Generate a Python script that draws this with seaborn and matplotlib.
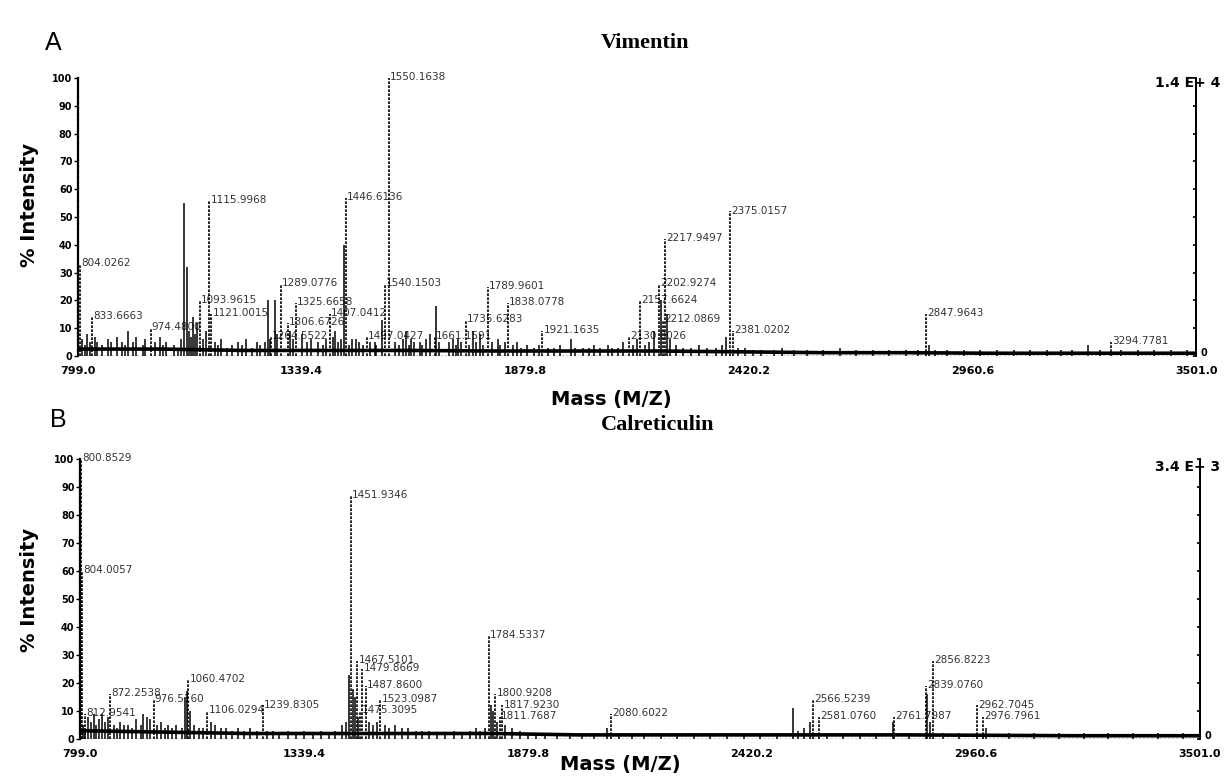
import matplotlib
matplotlib.use("Agg")
import matplotlib.pyplot as plt
import seaborn as sns
import pandas as pd

# axis ticks (m/z)
x_ticks = [799.0, 1339.4, 1879.8, 2420.2, 2960.6, 3501.0]
x_tick_labels = ["799.0", "1339.4", "1879.8", "2420.2", "2960.6", "3501.0"]
y_ticks = [0, 10, 20, 30, 40, 50, 60, 70, 80, 90, 100]

# ---- Vimentin: labelled peaks
vim_mz = [804.0, 833.7, 974.5, 1094.0, 1116.0, 1121.0, 1264.6, 1289.1, 1306.7, 1325.7,
          1407.0, 1446.6, 1497.0, 1540.2, 1550.2, 1661.2, 1735.6, 1789.9, 1838.1, 1921.2,
          2130.0, 2157.7, 2202.9, 2212.1, 2217.9, 2375.0, 2381.0, 2847.96, 3294.8]
vim_int = [33, 14, 10, 20, 56, 15, 7, 26, 12, 19,
           15, 57, 7, 26, 100, 7, 13, 25, 19, 9,
           7, 20, 26, 13, 42, 52, 9, 15, 5]
vim_lab = ["804.0262", "833.6663", "974.4800", "1093.9615", "1115.9968", "1121.0015",
           "1264.5522", "1289.0776", "1306.6726", "1325.6658", "1407.0412", "1446.6136",
           "1497.0427", "1540.1503", "1550.1638", "1661.1591", "1735.6283", "1789.9601",
           "1838.0778", "1921.1635", "2130.0026", "2157.6624", "2202.9274", "2212.0869",
           "2217.9497", "2375.0157", "2381.0202", "2847.9643", "3294.7781"]

# ---- Vimentin: unlabelled peaks
vim_minor_mz = [808, 815, 822, 828, 840, 846, 858, 872, 880, 893,
                905, 912, 920, 932, 940, 955, 962, 985, 998, 1005,
                1012, 1030, 1040, 1048, 1068, 1072, 1082, 1100, 1108, 1130,
                1138, 1145, 1160, 1172, 1185, 1195, 1205, 1220, 1232, 1240,
                1250, 1258, 1262, 1275, 1280, 1312, 1318, 1340, 1352, 1362,
                1378, 1390, 1398, 1415, 1420, 1428, 1435, 1441, 1455, 1462,
                1470, 1478, 1488, 1505, 1516, 1520, 1533, 1565, 1575, 1585,
                1591, 1598, 1603, 1612, 1625, 1630, 1640, 1649, 1664, 1672,
                1695, 1705, 1712, 1717, 1725, 1745, 1753, 1760, 1770, 1778,
                1800, 1813, 1820, 1830, 1850, 1859, 1870, 1885, 1900, 1912,
                1935, 1950, 1965, 1990, 2000, 2020, 2035, 2045, 2060, 2079,
                2090, 2103, 2115, 2140, 2150, 2170, 2180, 2190, 2207, 2222,
                2230, 2245, 2260, 2280, 2300, 2320, 2340, 2355, 2365, 2395,
                2410, 2430, 2450, 2480, 2500, 2530, 2560, 2600, 2640, 2680,
                2720, 2760, 2800, 2830, 2855, 2870, 2900, 2940, 2980, 3020,
                3060, 3100, 3140, 3175, 3200, 3240, 3270, 3320, 3360, 3400,
                3440, 3480, 1055, 1062, 1077, 1086]
vim_minor_int = [6, 4, 8, 5, 7, 5, 4, 6, 5, 7,
                 5, 4, 9, 5, 7, 4, 6, 5, 7, 4,
                 5, 4, 3, 6, 9, 7, 8, 6, 9, 5,
                 4, 6, 3, 4, 5, 4, 6, 3, 5, 4,
                 5, 20, 6, 20, 8, 9, 6, 8, 5, 6,
                 5, 4, 6, 7, 9, 5, 6, 40, 4, 6,
                 6, 5, 4, 5, 5, 4, 13, 5, 4, 6,
                 9, 4, 6, 5, 5, 4, 6, 8, 18, 5,
                 5, 6, 4, 6, 5, 4, 9, 5, 8, 4,
                 5, 6, 4, 5, 4, 5, 3, 4, 3, 4,
                 3, 3, 4, 6, 3, 3, 3, 4, 3, 4,
                 3, 3, 5, 4, 6, 4, 5, 9, 20, 15,
                 6, 4, 3, 3, 4, 3, 3, 4, 7, 3,
                 3, 2, 2, 2, 3, 2, 2, 2, 3, 2,
                 2, 2, 2, 2, 4, 2, 2, 2, 2, 2,
                 2, 2, 2, 2, 2, 4, 2, 2, 2, 2,
                 2, 2, 55, 32, 14, 12]
vim_base_mz = [799, 1000, 1200, 1400, 1600, 1800, 2000, 2200, 2400, 2600, 2800, 3000, 3200, 3501]
vim_base = [2.5, 2.5, 2.0, 2.0, 2.0, 1.8, 1.8, 1.8, 1.5, 1.2, 1.2, 1.0, 1.0, 1.0]

# ---- Calreticulin: labelled peaks
cal_mz = [800.9, 804.0, 812.0, 872.3, 976.5, 1060.5, 1106.0, 1239.8, 1451.9, 1467.5,
          1475.3, 1479.9, 1487.9, 1523.1, 1784.5, 1800.9, 1811.8, 1817.9, 2080.6, 2566.5,
          2581.1, 2761.8, 2839.1, 2856.8, 2962.7, 2976.8]
cal_int = [100, 60, 9, 16, 14, 21, 10, 12, 87, 28,
           10, 25, 19, 14, 37, 16, 8, 12, 9, 14,
           8, 8, 19, 28, 12, 8]
cal_lab = ["800.8529", "804.0057", "812.9541", "872.2538", "976.5160", "1060.4702",
           "1106.0294", "1239.8305", "1451.9346", "1467.5101", "1475.3095", "1479.8669",
           "1487.8600", "1523.0987", "1784.5337", "1800.9208", "1811.7687", "1817.9230",
           "2080.6022", "2566.5239", "2581.0760", "2761.7987", "2839.0760", "2856.8223",
           "2962.7045", "2976.7961"]

# ---- Calreticulin: unlabelled peaks
cal_minor_mz = [806, 812, 818, 825, 832, 838, 845, 852, 860, 866,
                880, 888, 895, 905, 915, 925, 935, 945, 952, 960,
                968, 985, 995, 1003, 1010, 1020, 1030, 1045, 1052, 1058,
                1065, 1075, 1085, 1095, 1115, 1125, 1140, 1152, 1165, 1180,
                1195, 1210, 1225, 1250, 1265, 1280, 1300, 1320, 1340, 1360,
                1380, 1400, 1415, 1430, 1440, 1448, 1458, 1463, 1470, 1495,
                1505, 1515, 1535, 1545, 1560, 1575, 1590, 1610, 1625, 1640,
                1660, 1680, 1700, 1720, 1740, 1755, 1765, 1775, 1790, 1795,
                1805, 1825, 1840, 1860, 1880, 1900, 1920, 1950, 1980, 2010,
                2040, 2070, 2100, 2130, 2160, 2200, 2240, 2280, 2320, 2360,
                2400, 2440, 2480, 2519, 2530, 2545, 2560, 2600, 2640, 2680,
                2720, 2761, 2800, 2843, 2850, 2880, 2920, 2985, 3040, 3100,
                3160, 3220, 3280, 3340, 3400, 3460]
cal_minor_int = [5, 4, 8, 6, 9, 5, 7, 9, 6, 8,
                 5, 4, 6, 5, 5, 4, 7, 5, 9, 8,
                 7, 5, 6, 4, 5, 4, 5, 4, 15, 17,
                 10, 5, 4, 4, 6, 5, 4, 4, 3, 4,
                 3, 4, 3, 3, 3, 2, 3, 2, 3, 2,
                 3, 2, 3, 5, 6, 23, 18, 15, 8, 6,
                 5, 6, 5, 4, 5, 4, 4, 3, 3, 3,
                 2, 2, 3, 2, 3, 4, 3, 4, 12, 10,
                 6, 5, 4, 3, 2, 2, 2, 2, 2, 2,
                 2, 4, 2, 2, 2, 2, 2, 2, 2, 2,
                 2, 2, 2, 11, 3, 4, 6, 2, 2, 2,
                 2, 6, 2, 16, 6, 2, 2, 4, 2, 2,
                 2, 2, 2, 2, 2, 2]
cal_base_mz = [799, 1000, 1200, 1400, 1600, 1800, 2000, 2400, 2800, 3200, 3501]
cal_base = [3.0, 2.5, 2.0, 2.0, 2.0, 2.0, 1.5, 1.5, 1.5, 1.2, 1.2]

sns.set_theme(style="white")
plt.rcParams['font.family'] = ['DejaVu Sans']
plt.rcParams['text.color'] = 'black'
plt.rcParams['xtick.color'] = 'black'
plt.rcParams['ytick.color'] = 'black'
plt.rcParams['axes.edgecolor'] = 'black'

fig = plt.figure(figsize=(12.26, 7.78), dpi=100)
axA = fig.add_axes([0.0636, 0.5424, 0.912, 0.3573])
axB = fig.add_axes([0.0653, 0.050, 0.9135, 0.360])


def draw_spectrum(ax, mz, inten, labels, minor_mz, minor_int, base_mz, base):
    base_df = pd.DataFrame({'mz': base_mz, 'level': base})
    sns.lineplot(data=base_df, x='mz', y='level', ax=ax, color='black', lw=2.6)
    ax.vlines(minor_mz, 0, minor_int, color='black', lw=1.1)
    ax.vlines(mz, 0, inten, color='black', lw=1.2, linestyles=(0, (1.6, 0.8)))
    for m, h, lab in zip(mz, inten, labels):
        ax.text(m + 3, h + 0.3, lab, fontsize=7.5, ha='left', va='center',
                color='black', alpha=0.8)
    ax.axhline(0, color='black', lw=1.0, ls=(0, (1.5, 1.5)))

    ax.set_xlim(799, 3501)
    ax.set_ylim(0, 100)
    ax.set_xticks(x_ticks)
    ax.set_xticklabels(x_tick_labels, fontsize=8, fontweight='bold')
    ax.set_yticks(y_ticks)
    ax.set_yticklabels([str(v) for v in y_ticks], fontsize=7, fontweight='bold')
    ax.tick_params(axis='x', length=0, pad=7)
    ax.tick_params(axis='y', length=3, width=1, direction='out', pad=1, left=True)
    ax.set_xlabel('')
    ax.set_ylabel('')
    for s in ['top', 'bottom']:
        ax.spines[s].set_visible(False)
    ax.spines['left'].set_linewidth(1.6)
    ax.spines['left'].set_linestyle((0, (2, 0.6)))
    ax.spines['right'].set_linewidth(1.3)
    sec = ax.secondary_yaxis('right')
    sec.set_yticks(y_ticks)
    sec.set_yticklabels([])
    sec.tick_params(length=2, direction='in')
    sec.spines['right'].set_linewidth(1.3)
    ax.text(1.004, 0.01, '0', transform=ax.transAxes, fontsize=7, fontweight='bold',
            ha='left', va='center')


draw_spectrum(axA, vim_mz, vim_int, vim_lab, vim_minor_mz, vim_minor_int, vim_base_mz, vim_base)
draw_spectrum(axB, cal_mz, cal_int, cal_lab, cal_minor_mz, cal_minor_int, cal_base_mz, cal_base)

# panel texts
fig.text(0.037, 0.945, 'A', fontsize=18, family='Liberation Sans', va='center')
fig.text(0.526, 0.945, 'Vimentin', fontsize=16, family='Liberation Serif', fontweight='bold',
         ha='center', va='center')
fig.text(0.942, 0.893, '1.4 E+ 4', fontsize=10, fontweight='bold', va='center')
fig.text(0.024, 0.737, '% Intensity', fontsize=14, fontweight='bold', rotation=90,
         ha='center', va='center')
fig.text(0.499, 0.486, 'Mass (M/Z)', fontsize=14, fontweight='bold', ha='center', va='center')

fig.text(0.041, 0.460, 'B', fontsize=18, family='Liberation Sans', va='center')
fig.text(0.536, 0.454, 'Calreticulin', fontsize=16, family='Liberation Serif', fontweight='bold',
         ha='center', va='center')
fig.text(0.942, 0.400, '3.4 E+ 3', fontsize=10, fontweight='bold', va='center')
fig.text(0.024, 0.242, '% Intensity', fontsize=14, fontweight='bold', rotation=90,
         ha='center', va='center')
fig.text(0.506, 0.017, 'Mass (M/Z)', fontsize=14, fontweight='bold', ha='center', va='center')

fig.savefig('out.png', dpi=100, facecolor='white')
